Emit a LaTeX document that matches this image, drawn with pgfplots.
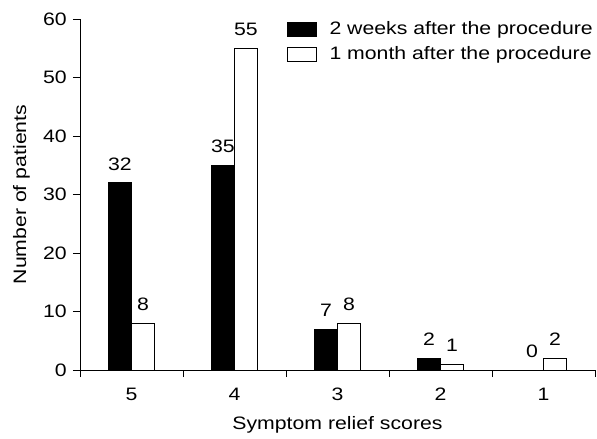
\documentclass[border=0pt]{standalone}
\usepackage{pgfplots}
\pgfplotsset{compat=1.18}
\usepackage{fontspec}
\setmainfont[FakeStretch=1.18]{Liberation Sans}

\begin{document}
\begin{tikzpicture}
\fontsize{18}{21}\selectfont
\begin{axis}[
    scale only axis,
    width=515pt, height=351pt,
    ybar=0pt, bar width=23pt,
    xmin=-0.5, xmax=4.5,
    ymin=0, ymax=60,
    ytick={0,10,...,60},
    xtick={-0.5,0.5,...,4.5},
    xticklabels={5,4,3,2,1},
    x tick label as interval,
    axis x line*=bottom, axis y line*=left,
    axis line style={line width=0.9pt},
    tick style={line width=0.9pt, black},
    tick align=outside, major tick length=7pt,
    /pgf/number format/assume math mode=true,
    ticklabel style={font=\fontsize{18}{21}\selectfont},
    xticklabel style={yshift=-5pt},
    label style={font=\fontsize{18}{21}\selectfont},
    xlabel={Symptom relief scores},
    ylabel={Number of patients},
    xlabel style={yshift=-3pt},
    ylabel style={yshift=1pt},
    nodes near coords,
    nodes near coords style={font=\fontsize{18}{21}\selectfont, yshift=6pt,
        /pgf/number format/assume math mode=true},
    legend style={draw=none, fill=none, at={(rel axis cs:1,1)}, anchor=north east,
        font=\fontsize{18}{21}\selectfont, row sep=6pt, inner sep=0pt},
    legend cell align=left,
    legend image code/.code={\draw[#1, line width=0.9pt] (0pt,-7pt) rectangle (29pt,7pt);
        \path[draw=none, fill=none] (0pt,0pt) -- (40pt,0pt);},
]
\addplot[fill=black, draw=black, line width=0.9pt] coordinates {(0,32) (1,35) (2,7) (3,2) (4,0)};
\addplot[fill=white, draw=black, line width=0.9pt] coordinates {(0,8) (1,55) (2,8) (3,1) (4,2)};
\legend{2 weeks after the procedure, 1 month after the procedure}
\end{axis}
\path[use as bounding box] (-80pt,-69pt) rectangle (517pt,370pt);
\end{tikzpicture}
\end{document}
